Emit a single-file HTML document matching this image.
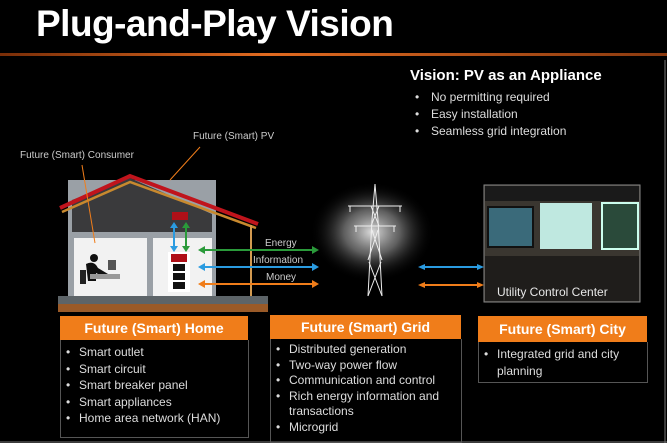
<!DOCTYPE html>
<html><head><meta charset="utf-8"><style>
html,body{margin:0;padding:0;background:#000;}
body{width:667px;height:443px;position:relative;overflow:hidden;font-family:"Liberation Sans",sans-serif;color:#fff;}
.a{position:absolute;}
.hdr{background:#f07d1a;color:#fff;font-weight:bold;font-size:14px;text-align:center;line-height:24px;}
.box{border:1px solid #555;}
ul{margin:0;padding:0;list-style:none;}
li{position:relative;padding-left:18px;font-size:12px;color:#ddd;line-height:16.5px;}
li:before{content:"•";position:absolute;left:5px;}
</style></head><body>
<div class="a" style="left:36px;top:3px;font-size:37px;font-weight:bold;letter-spacing:-0.5px;">Plug-and-Play Vision</div>
<div class="a" style="left:0;top:53px;width:667px;height:3px;background:linear-gradient(90deg,#7a2e08,#e06a20 40%,#8a3a10 100%);"></div>
<div class="a" style="left:410px;top:67px;font-size:15px;font-weight:bold;">Vision: PV as an Appliance</div>
<div class="a" style="left:410px;top:89px;width:250px;"><ul>
<li style="padding-left:21px;line-height:17px;font-size:12px">No permitting required</li>
<li style="padding-left:21px;line-height:17px;font-size:12px">Easy installation</li>
<li style="padding-left:21px;line-height:17px;font-size:12px">Seamless grid integration</li></ul></div>
<div class="a" style="left:193px;top:131px;font-size:10px;color:#ccc;">Future (Smart) PV</div>
<div class="a" style="left:20px;top:150px;font-size:10px;color:#ccc;">Future (Smart) Consumer</div>

<svg class="a" style="left:0;top:0" width="667" height="443">
<defs>
<radialGradient id="cl"><stop offset="0" stop-color="#ddd"/><stop offset="0.45" stop-color="#888" stop-opacity="0.7"/><stop offset="1" stop-color="#000" stop-opacity="0"/></radialGradient>
</defs>
<line x1="665" y1="60" x2="665" y2="443" stroke="#777" stroke-width="1"/>
<line x1="0" y1="442" x2="667" y2="442" stroke="#777" stroke-width="1"/>
<!-- house -->
<rect x="68" y="180" width="148" height="118" fill="#9aa0a6"/>
<polygon points="72,200 130,178 212,214 212,232 72,232" fill="#3a3a3c"/>
<rect x="74" y="238" width="73" height="58" fill="#f2f2f2"/>
<rect x="153" y="238" width="59" height="58" fill="#f2f2f2"/>
<polyline points="60,208 130,176 258,224" fill="none" stroke="#c0141c" stroke-width="4"/>
<polyline points="62,212 130,182 256,228" fill="none" stroke="#c8892e" stroke-width="2.5"/>
<line x1="251" y1="225" x2="251" y2="297" stroke="#d39a50" stroke-width="2"/>
<rect x="58" y="296" width="210" height="9" fill="#5d6468"/>
<rect x="58" y="304" width="210" height="8" fill="#9a5a28"/>
<!-- person -->
<circle cx="94" cy="258" r="4" fill="#111"/>
<path d="M86,264 q8,-4 12,4 l10,6 l-4,3 l-8,-4 l0,8 l-8,0 z" fill="#111"/>
<rect x="80" y="270" width="6" height="14" fill="#222"/>
<rect x="90" y="274" width="30" height="5" fill="#999"/>
<rect x="108" y="260" width="8" height="10" fill="#555"/>
<!-- panel -->
<rect x="172" y="212" width="16" height="8" fill="#b01018"/>
<rect x="168" y="252" width="22" height="40" fill="#fff"/>
<rect x="171" y="254" width="16" height="8" fill="#b01018"/>
<rect x="173" y="264" width="12" height="7" fill="#111"/>
<rect x="173" y="273" width="12" height="7" fill="#111"/>
<rect x="173" y="282" width="12" height="7" fill="#111"/>
<g stroke-width="2" fill="none">
<line x1="174" y1="225" x2="174" y2="249" stroke="#2a9be0"/>
<line x1="186" y1="225" x2="186" y2="249" stroke="#2a9a3a"/>
<line x1="202" y1="250" x2="316" y2="250" stroke="#2a9a3a"/>
<line x1="202" y1="267" x2="316" y2="267" stroke="#2a9be0"/>
<line x1="202" y1="284" x2="316" y2="284" stroke="#f07d1a"/>
<line x1="422" y1="267" x2="480" y2="267" stroke="#2a9be0"/>
<line x1="422" y1="285" x2="480" y2="285" stroke="#f07d1a"/>
<line x1="82" y1="165" x2="95" y2="243" stroke="#f07d1a" stroke-width="1"/>
<line x1="200" y1="147" x2="170" y2="180" stroke="#f07d1a" stroke-width="1"/>
</g>
<g fill="#2a9a3a"><polygon points="198,250 205,246 205,254"/><polygon points="319,250 312,246 312,254"/><polygon points="186,222 182,228 190,228"/><polygon points="186,252 182,246 190,246"/></g>
<g fill="#2a9be0"><polygon points="198,267 205,263 205,271"/><polygon points="319,267 312,263 312,271"/><polygon points="174,222 170,228 178,228"/><polygon points="174,252 170,246 178,246"/><polygon points="418,267 425,264 425,270"/><polygon points="484,267 477,264 477,270"/></g>
<g fill="#f07d1a"><polygon points="198,284 205,280 205,288"/><polygon points="319,284 312,280 312,288"/><polygon points="418,285 425,282 425,288"/><polygon points="484,285 477,282 477,288"/></g>
<text x="265" y="246" font-size="10" fill="#ccc" font-family="Liberation Sans">Energy</text>
<text x="253" y="263" font-size="10" fill="#ccc" font-family="Liberation Sans">Information</text>
<text x="266" y="280" font-size="10" fill="#ccc" font-family="Liberation Sans">Money</text>
<!-- cloud and tower -->
<ellipse cx="372" cy="232" rx="62" ry="50" fill="url(#cl)"/>
<g stroke="#eee" stroke-width="1" fill="none">
<polyline points="368,296 372,220 375,184 378,220 382,296"/>
<line x1="348" y1="206" x2="402" y2="206"/><line x1="354" y1="226" x2="396" y2="226"/>
<line x1="350" y1="206" x2="350" y2="212"/><line x1="400" y1="206" x2="400" y2="212"/>
<line x1="356" y1="226" x2="356" y2="232"/><line x1="394" y1="226" x2="394" y2="232"/>
<path d="M371,206 L379,226 M379,206 L371,226 M372,230 L382,260 M378,230 L368,260 M369,262 L382,296 M381,262 L368,296"/>
</g>
<!-- control center -->
<rect x="484" y="185" width="156" height="117" fill="#3a3630" stroke="#888"/>
<rect x="485" y="186" width="154" height="15" fill="#1a1a1a"/>
<rect x="488" y="207" width="45" height="40" fill="#3a6a7a" stroke="#111" stroke-width="2"/>
<rect x="540" y="203" width="52" height="46" fill="#bfe8e0"/>
<rect x="602" y="203" width="36" height="46" fill="#2a4a3a" stroke="#cfe" stroke-width="2"/>
<rect x="485" y="256" width="154" height="45" fill="#1f1d1b"/>
<text x="497" y="296" font-size="12" fill="#e8e8e8" font-family="Liberation Sans">Utility Control Center</text>
</svg>

<div class="a hdr" style="left:60px;top:316px;width:188px;">Future (Smart) Home</div>
<div class="a box" style="left:60px;top:340px;width:187px;height:97px;border-top:none;">
<ul style="margin-top:4px"><li>Smart outlet</li><li>Smart circuit</li><li>Smart breaker panel</li><li>Smart appliances</li><li>Home area network (HAN)</li></ul></div>
<div class="a hdr" style="left:270px;top:315px;width:191px;">Future (Smart) Grid</div>
<div class="a box" style="left:270px;top:339px;width:190px;height:103px;border-top:none;">
<ul style="margin-top:3px"><li style="line-height:15.5px">Distributed generation</li><li style="line-height:15.5px">Two-way power flow</li><li style="line-height:15.5px">Communication and control</li><li style="line-height:15.5px">Rich energy information and transactions</li><li style="line-height:15.5px">Microgrid</li></ul></div>
<div class="a hdr" style="left:478px;top:316px;width:169px;line-height:26px;">Future (Smart) City</div>
<div class="a box" style="left:478px;top:342px;width:168px;height:40px;border-top:none;">
<ul style="margin-top:4px"><li>Integrated grid and city planning</li></ul></div>
</body></html>
